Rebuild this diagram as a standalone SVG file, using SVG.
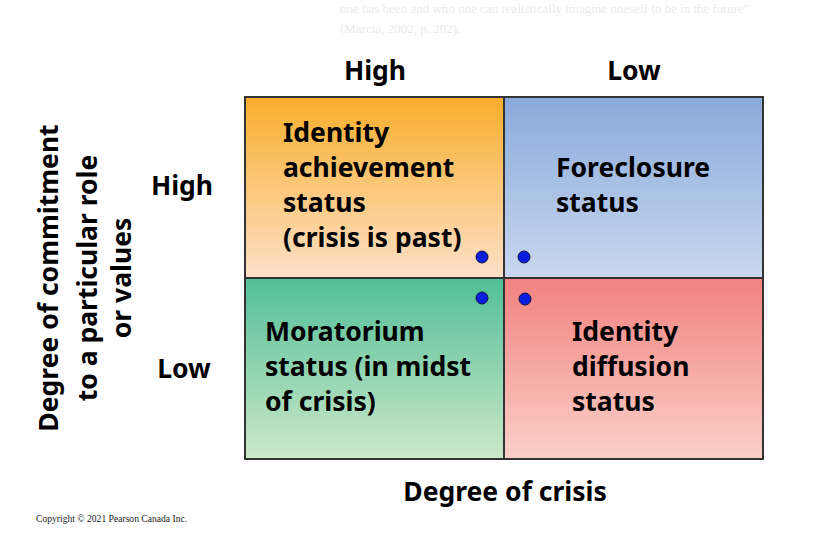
<svg xmlns="http://www.w3.org/2000/svg" width="833" height="560" viewBox="0 0 833 560">
<style>
.t{font-family:"Noto Sans","Open Sans",sans-serif;font-weight:bold;font-size:26.5px;fill:#000}
.a{font-family:"Noto Sans","Open Sans",sans-serif;font-weight:bold;font-size:26.5px;fill:#000}
.bg{font-family:"Liberation Serif",serif;font-size:13px;fill:#ebebeb}
.dot{fill:#0a1ee0;stroke:#101040;stroke-width:1}
.cell{stroke:#333;stroke-width:2}
</style>
<defs>
<linearGradient id="g1" x1="0" y1="0" x2="0" y2="1"><stop offset="0" stop-color="#f9ae2b"/><stop offset="1" stop-color="#fde0c8"/></linearGradient>
<linearGradient id="g2" x1="0" y1="0" x2="0" y2="1"><stop offset="0" stop-color="#8aaadb"/><stop offset="1" stop-color="#c9d7ef"/></linearGradient>
<linearGradient id="g3" x1="0" y1="0" x2="0" y2="1"><stop offset="0" stop-color="#52bf98"/><stop offset="1" stop-color="#cce8c9"/></linearGradient>
<linearGradient id="g4" x1="0" y1="0" x2="0" y2="1"><stop offset="0" stop-color="#f2827f"/><stop offset="1" stop-color="#fbd0c9"/></linearGradient>
</defs>
<rect width="833" height="560" fill="#fff"/>
<text class="bg" x="340" y="13">one has been and who one can realistically imagine oneself to be in the future”</text>
<text class="bg" x="340" y="33">(Marcia, 2002, p. 202).</text>
<text x="36" y="522" font-family="Liberation Serif,serif" font-size="9.6" fill="#222">Copyright © 2021 Pearson Canada Inc.</text>
<g id="achievement"><rect class="cell" x="245" y="97" width="259" height="181" fill="url(#g1)"/>
<text class="t" x="283" y="142">Identity</text><text class="t" x="283" y="177">achievement</text><text class="t" x="283" y="212">status</text><text class="t" x="283" y="247">(crisis is past)</text></g>
<g id="foreclosure"><rect class="cell" x="504" y="97" width="259" height="181" fill="url(#g2)"/>
<text class="t" x="556" y="177">Foreclosure</text><text class="t" x="556" y="212">status</text></g>
<g id="moratorium"><rect class="cell" x="245" y="278" width="259" height="181" fill="url(#g3)"/>
<text class="t" x="265" y="341">Moratorium</text><text class="t" x="265" y="376">status (in midst</text><text class="t" x="265" y="411">of crisis)</text></g>
<g id="diffusion"><rect class="cell" x="504" y="278" width="259" height="181" fill="url(#g4)"/>
<text class="t" x="572" y="341">Identity</text><text class="t" x="572" y="376">diffusion</text><text class="t" x="572" y="411">status</text></g>
<g id="dots"><circle class="dot" cx="482" cy="257" r="6"/><circle class="dot" cx="524" cy="257" r="6"/><circle class="dot" cx="482" cy="298" r="6"/><circle class="dot" cx="525" cy="299" r="6"/></g>
<g id="labels">
<text class="a" x="375" y="80" text-anchor="middle">High</text>
<text class="a" x="634" y="80" text-anchor="middle">Low</text>
<text class="a" x="182" y="195" text-anchor="middle">High</text>
<text class="a" x="184" y="378" text-anchor="middle">Low</text>
<text class="a" x="505" y="501" text-anchor="middle">Degree of crisis</text>
<g transform="translate(0,278) rotate(-90)" text-anchor="middle">
<text class="a" x="0" y="58">Degree of commitment</text>
<text class="a" x="0" y="97">to a particular role</text>
<text class="a" x="0" y="131">or values</text></g>
</g>
</svg>
